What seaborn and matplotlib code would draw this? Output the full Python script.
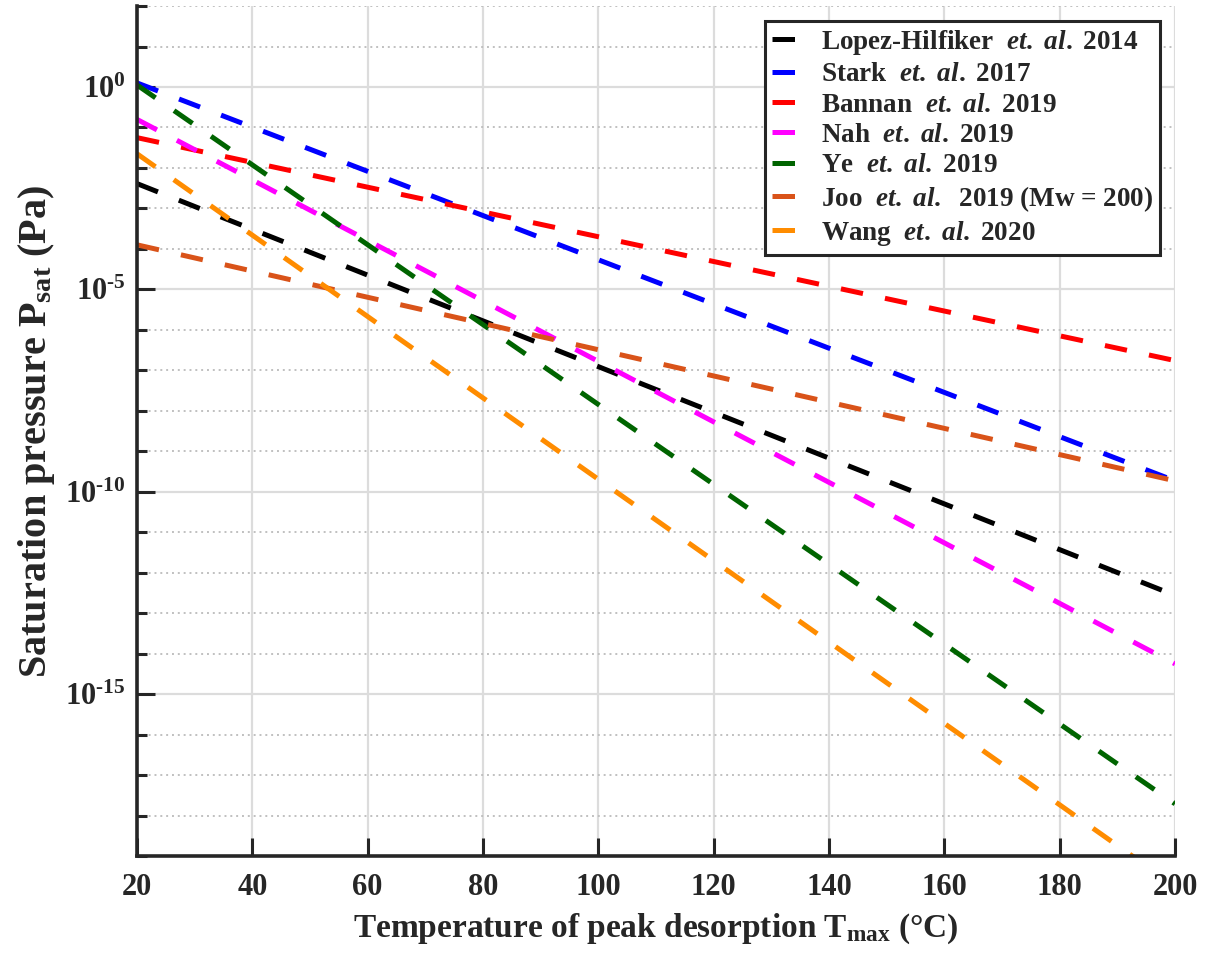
import math
import pandas as pd
import matplotlib
matplotlib.use("Agg")
import matplotlib.pyplot as plt
import matplotlib.ticker as mticker
import seaborn as sns

# values: Psat (Pa) at T = 20 and T = 200 degC
temps = [20, 200]
studies = [
    r"Lopez-Hilfiker  $\mathit{et.\ al.}$ 2014",
    r"Stark  $\mathit{et.\ al.}$ 2017",
    r"Bannan  $\mathit{et.\ al.}$ 2019",
    r"Nah  $\mathit{et.\ al.}$ 2019",
    r"Ye  $\mathit{et.\ al.}$ 2019",
    r"Joo  $\mathit{et.\ al.}$  2019 (Mw = 200)",
    r"Wang  $\mathit{et.\ al.}$ 2020",
]
lopez = [4.1e-3, 2.75e-13]
stark = [1.26, 1.86e-10]
bannan = [5.6e-2, 1.74e-7]
nah = [0.158, 5.6e-15]
ye = [1.12, 1.95e-18]
joo = [1.26e-4, 1.86e-10]
wang = [2.24e-2, 1.8e-20]
colors = ["#000000", "#0000FF", "#FF0000", "#FF00FF", "#006400", "#D95319", "#FF8C00"]

rows = []
for name, vals in zip(studies, [lopez, stark, bannan, nah, ye, joo, wang]):
    for t, p in zip(temps, vals):
        rows.append({"T": t, "P": p, "study": name})
df = pd.DataFrame(rows)

sns.set_theme(style="ticks")
plt.rcParams["font.family"] = ["Liberation Serif", "DejaVu Serif"]
plt.rcParams["font.weight"] = "bold"
plt.rcParams["mathtext.fontset"] = "custom"
plt.rcParams["mathtext.rm"] = "Liberation Serif:bold"
plt.rcParams["mathtext.bf"] = "Liberation Serif:bold"
plt.rcParams["mathtext.it"] = "Liberation Serif:italic:bold"
plt.rcParams["mathtext.default"] = "rm"

fig = plt.figure(figsize=(12.05, 9.57), dpi=100)
ax = fig.add_axes([0.1137, 0.1055, 0.8614, 0.8882])

sns.lineplot(data=df, x="T", y="P", hue="study", style="study",
             palette=dict(zip(studies, colors)),
             dashes={s: (4.5, 4.5) for s in studies},
             linewidth=3.6, ax=ax)

ax.set_yscale("log")
ax.set_xlim(20, 200)
ax.set_ylim(1e-19, 1e2)
ax.set_xticks(range(20, 201, 20))
ax.yaxis.set_major_locator(mticker.FixedLocator([1e0, 1e-5, 1e-10, 1e-15]))
ax.yaxis.set_minor_locator(mticker.FixedLocator([10.0 ** k for k in range(-19, 3) if k % 5 != 0]))
ax.yaxis.set_minor_formatter(mticker.NullFormatter())
ax.yaxis.set_major_formatter(mticker.FuncFormatter(
    lambda v, p: r"10$^{\text{%d}}$" % round(math.log10(v))))

ax.grid(True, which="major", color="#dcdcdc", linewidth=1.6, linestyle="-")
ax.grid(True, which="minor", axis="y", color="#c0c0c0", linewidth=1.4, linestyle=(0, (1, 2)))
ax.set_axisbelow(True)

for side in ["top", "right"]:
    ax.spines[side].set_visible(False)
for side in ["left", "bottom"]:
    ax.spines[side].set_color("#262626")
    ax.spines[side].set_linewidth(2.6)
ax.tick_params(axis="x", which="major", direction="in", length=13, width=2.2,
               color="#262626", labelsize=22, pad=12)
ax.tick_params(axis="y", which="major", direction="in", length=13, width=2.2,
               color="#262626", labelsize=22, pad=8)
ax.tick_params(axis="y", which="minor", direction="in", length=7, width=2.2, color="#262626")
ax.tick_params(axis="x", which="minor", bottom=False)
for lab in ax.get_xticklabels() + ax.get_yticklabels():
    lab.set_fontweight("bold")

ax.set_xlabel(r"Temperature of peak desorption T$_{\mathrm{max}}$ (°C)", fontsize=24,
              fontweight="bold", labelpad=7)
ax.set_ylabel(r"Saturation pressure P$_{\mathrm{sat}}$ (Pa)", fontsize=29,
              fontweight="bold", labelpad=6)

handles, labels = ax.get_legend_handles_labels()
leg = ax.legend(handles, labels, loc="upper right", fontsize=19.5, frameon=True,
                fancybox=False, edgecolor="#262626", framealpha=1,
                handlelength=1.0, handletextpad=0.8, labelspacing=0.2,
                borderpad=0.25, borderaxespad=0.55)
leg.get_frame().set_linewidth(2.2)
for t in leg.get_texts():
    t.set_fontweight("bold")

fig.savefig("out.png", dpi=100)
